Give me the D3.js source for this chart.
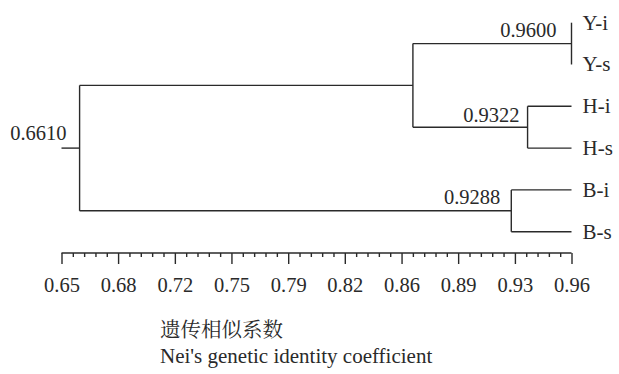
<!DOCTYPE html>
<html>
<head>
<meta charset="utf-8">
<script src="https://cdn.jsdelivr.net/npm/d3@7"></script>
</head>
<body style="margin:0">
<div id="holder"></div>
<script>
// ---- data ----
const leaves = ["Y-i", "Y-s", "H-i", "H-s", "B-i", "B-s"];
// internal nodes: name, similarity, children, printed label
const nodeNames    = ["root",   "YH",    "Y",      "H",      "B"];
const nodeHeights  = [0.661,    0.8636,  0.960,    0.9333,   0.9234];
const nodeChildren = [["YH","B"], ["Y","H"], ["Y-i","Y-s"], ["H-i","H-s"], ["B-i","B-s"]];
const nodeLabels   = ["0.6610", "",      "0.9600", "0.9322", "0.9288"];
const leafHeight = 0.96;
const tickValuesMajor = [0.65, 0.6844, 0.7189, 0.7533, 0.7878, 0.8222, 0.8567, 0.8911, 0.9256, 0.96];
const tickLabels = ["0.65","0.68","0.72","0.75","0.79","0.82","0.86","0.89","0.93","0.96"];
const titleCN = "遗传相似系数";
const titleEN = "Nei's genetic identity coefficient";

// ---- layout ----
const SERIF = "Liberation Serif";
const CJK = "Noto Serif CJK SC";
const textColor = "#2a2a2a";
const svg = d3.select("#holder").append("svg").attr("width", 619).attr("height", 374)
  .style("display", "block").style("font-family", SERIF);
const x = d3.scaleLinear().domain([0.65, 0.96]).range([61.5, 571.5]);
const y = d3.scalePoint().domain(leaves).range([22.7, 231.7]);
const stroke = "#2a2a2a", sw = 1.4;

function styledText(sel, size, fam) {
  fam = fam || SERIF;
  return sel.attr("font-family", fam).attr("font-size", size)
    .style("font-family", fam).style("font-size", size + "px")
    .attr("fill", textColor);
}

const nodes = {};
leaves.forEach(l => nodes[l] = {name: l, h: leafHeight, leaf: true});
nodeNames.forEach((n, i) => nodes[n] = {name: n, h: nodeHeights[i], kids: nodeChildren[i], label: nodeLabels[i]});
function yOf(n) {
  const d = nodes[n];
  if (d.leaf) return y(n);
  if (d.y == null) { const ys = d.kids.map(yOf); d.y0 = d3.min(ys); d.y1 = d3.max(ys); d.y = (d.y0 + d.y1) / 2; }
  return d.y;
}
yOf("root");

const g = svg.append("g");
nodeNames.forEach(n => {
  const d = nodes[n];
  g.append("line").attr("x1", x(d.h)).attr("x2", x(d.h)).attr("y1", d.y0).attr("y2", d.y1)
    .attr("stroke", stroke).attr("stroke-width", sw);
  d.kids.forEach(k => {
    const c = nodes[k];
    g.append("line").attr("x1", x(d.h)).attr("x2", x(c.h)).attr("y1", yOf(k)).attr("y2", yOf(k))
      .attr("stroke", stroke).attr("stroke-width", sw);
  });
});
// root stub
g.append("line").attr("x1", x(0.65)).attr("x2", x(nodes.root.h)).attr("y1", nodes.root.y).attr("y2", nodes.root.y)
  .attr("stroke", stroke).attr("stroke-width", sw);

// node labels (placed above the branch that enters the node)
const labelNudge = {root: [-13, -8], Y: [-15, -7], H: [-8, -5], B: [-11, -7]};
nodeNames.forEach(n => {
  const d = nodes[n];
  if (!d.label) return;
  const [dx, dy] = labelNudge[n];
  styledText(g.append("text"), 20.5).attr("x", x(d.h) + dx).attr("y", d.y + dy)
    .attr("text-anchor", "end").text(d.label);
});

// leaf labels
leaves.forEach(l => {
  styledText(g.append("text"), 21).attr("x", x(leafHeight) + 11).attr("y", y(l)).attr("dy", "0.33em").text(l);
});

// ---- axis ----
const axisY = 253;
const minor = [];
for (let i = 0; i < tickValuesMajor.length - 1; i++) {
  for (let j = 1; j < 5; j++) minor.push(tickValuesMajor[i] + (tickValuesMajor[i+1] - tickValuesMajor[i]) * j / 5);
}
const axMinor = svg.append("g").attr("transform", `translate(0,${axisY})`)
  .call(d3.axisBottom(x).tickValues(minor).tickSize(4).tickFormat(""));
const axMajor = svg.append("g").attr("transform", `translate(0,${axisY})`)
  .call(d3.axisBottom(x).tickValues(tickValuesMajor).tickSize(11).tickSizeOuter(0).tickPadding(13)
    .tickFormat((d, i) => tickLabels[i]));
[axMinor, axMajor].forEach(a => {
  a.attr("font-family", SERIF).attr("font-size", 20.5);
  a.select(".domain").attr("stroke", stroke).attr("stroke-width", sw);
  a.selectAll(".tick line").attr("stroke", stroke).attr("stroke-width", sw);
  styledText(a.selectAll(".tick text"), 20.5);
});
axMinor.select(".domain").remove();
axMajor.select(".domain").attr("d", `M${x(0.65)},0H${x(0.96)}`);

// ---- titles ----
styledText(svg.append("text"), 20.5, CJK).attr("x", 160).attr("y", 337).text(titleCN);
styledText(svg.append("text"), 21).attr("x", 160).attr("y", 363).text(titleEN);
</script>
</body>
</html>
